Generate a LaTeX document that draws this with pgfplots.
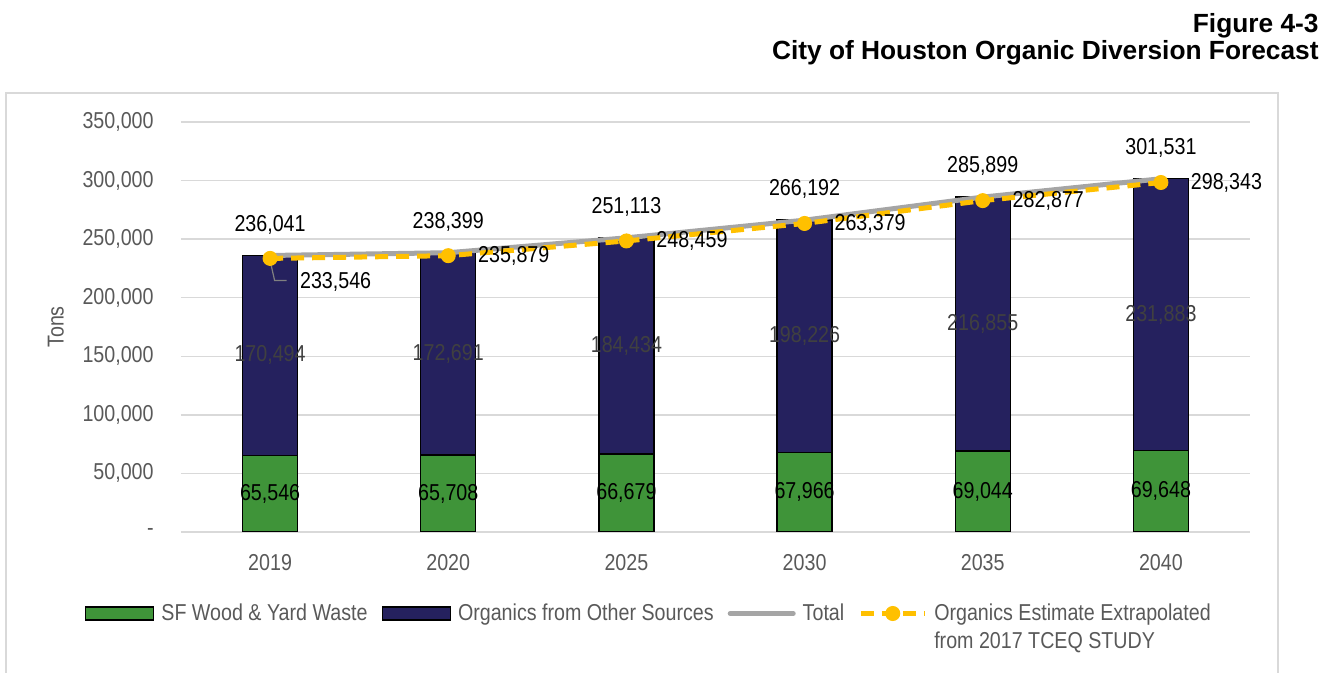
\documentclass[border=0pt]{standalone}
\usepackage{pgfplots}
\pgfplotsset{compat=1.18}
\usepackage{pgfplotstable}
\usepackage{fontspec}
\setmainfont{Liberation Sans}[FakeStretch=0.855]
\newfontfamily\titlefont{Liberation Sans}
\definecolor{cgreen}{HTML}{3F9439}
\definecolor{cnavy}{HTML}{25215E}
\definecolor{cgray}{HTML}{A5A5A5}
\definecolor{cyel}{HTML}{FFC000}
\definecolor{ctxt}{HTML}{595959}
\definecolor{cgrid}{HTML}{D9D9D9}
\definecolor{cseg}{HTML}{404040}

\pgfplotsset{
  barleg/.style={legend image code/.code={\draw[##1] (0pt,-3.25pt) rectangle (34pt,3.25pt);}},
  lineleg/.style={legend image code/.code={\draw[##1] (1.25pt,0pt) -- (32.75pt,0pt);}},
  markleg/.style={legend image code/.code={\draw[mark repeat=2,mark phase=2,##1] plot coordinates {(0pt,0pt) (16pt,0pt) (32pt,0pt)};}},
  frame/.style={at={(90.5pt,70.5pt)}, anchor=south west,
    scale only axis, width=534.5pt, height=205pt,
    xmin=-0.5, xmax=5.5, ymin=0, ymax=350000},
}

\pgfplotstableread{
x g o tot est totl estl dy
0 65546 170494 236041 233546 236,041 233,546 -11.8
1 65708 172691 238399 235879 238,399 235,879 0
2 66679 184434 251113 248459 251,113 248,459 0
3 67966 198226 266192 263379 266,192 263,379 0
4 69044 216855 285899 282877 285,899 282,877 0
5 69648 231883 301531 298343 301,531 298,343 0
}\datatable

\begin{document}
\fontsize{11.5}{13.8}\selectfont
\begin{tikzpicture}
\begin{axis}[
  frame,
  ybar stacked, bar width=27.5pt,
  axis line style={draw=none}, major tick length=0pt,
  ymajorgrids, grid style={cgrid, line width=0.75pt},
  xtick={0,1,2,3,4,5}, xticklabels={2019,2020,2025,2030,2035,2040},
  ytick={0,50000,100000,150000,200000,250000,300000,350000},
  yticklabels={{-},{50,000},{100,000},{150,000},{200,000},{250,000},{300,000},{350,000}},
  scaled y ticks=false,
  tick label style={text=ctxt, inner sep=0pt},
  yticklabel style={anchor=east, xshift=-13.5pt},
  xticklabel style={anchor=north, yshift=-11pt},
  ylabel={Tons},
  every axis y label/.style={at={(axis description cs:-0.117,0.5)}, rotate=90, anchor=center, text=ctxt},
]
\addplot[fill=cgreen, draw=black, line width=0.7pt] table[x=x, y=g] {\datatable};
\addplot[fill=cnavy, draw=black, line width=0.7pt] table[x=x, y=o] {\datatable};
\end{axis}

\begin{axis}[
  frame, hide axis, clip=false,
  legend columns=4,
  legend cell align=left,
  legend style={at={(axis description cs:-0.0898,-0.1988)}, anchor=west, draw=none, fill=none,
    inner sep=0pt, outer sep=0pt, nodes={text=ctxt, inner sep=0pt},
    /tikz/column sep=3.5pt,
    /tikz/every even column/.append style={column sep=7pt}},
]
\addlegendimage{barleg, fill=cgreen, draw=black, line width=0.7pt}
\addlegendentry{SF Wood \& Yard Waste}
\addlegendimage{barleg, fill=cnavy, draw=black, line width=0.7pt}
\addlegendentry{Organics from Other Sources}
\addplot[sharp plot, draw=cgray, line width=2.5pt, line cap=round, mark=none,
  nodes near coords, point meta=explicit symbolic,
  every node near coord/.style={anchor=center, yshift=15.5pt, text=black, inner sep=0pt},
  lineleg]
  table[x=x, y=tot, meta=totl] {\datatable};
\addlegendentry{Total}
\addplot[sharp plot, draw=cyel, line width=2.5pt, dash pattern=on 6.5pt off 4pt,
  mark=*, mark size=3.5pt, mark options={solid, fill=cyel, draw=cyel, line width=0.5pt},
  nodes near coords, point meta=explicit symbolic,
  visualization depends on={\thisrow{dy} \as \dy},
  every node near coord/.style={anchor=west, xshift=14.75pt, yshift=\dy pt, text=black, inner sep=0pt},
  markleg]
  table[x=x, y=est, meta=estl] {\datatable};
\addlegendentry{\makebox[0pt][l]{\raisebox{-14pt}[0pt][0pt]{from 2017 TCEQ STUDY}}Organics Estimate Extrapolated}

\draw[gray, line width=0.6pt] (axis cs:0,233546) ++(0pt,-1pt) -- ++(2.25pt,-10pt) -- ++(6pt,0pt);

\node[text=black] at (axis cs:0,32773) {65,546};
\node[text=black] at (axis cs:1,32854) {65,708};
\node[text=black] at (axis cs:2,33339.5) {66,679};
\node[text=black] at (axis cs:3,33983) {67,966};
\node[text=black] at (axis cs:4,34522) {69,044};
\node[text=black] at (axis cs:5,34824) {69,648};
\node[text=cseg] at (axis cs:0,150793) {170,494};
\node[text=cseg] at (axis cs:1,152053.5) {172,691};
\node[text=cseg] at (axis cs:2,158896) {184,434};
\node[text=cseg] at (axis cs:3,167079) {198,226};
\node[text=cseg] at (axis cs:4,177471.5) {216,855};
\node[text=cseg] at (axis cs:5,185589.5) {231,883};
\end{axis}
\draw[cgrid, line width=1pt] (3pt,-5pt) rectangle (639pt,290pt);
\node[anchor=base east, inner sep=0pt, font=\titlefont\bfseries\fontsize{13.15}{15}\selectfont] at (659.5pt,320pt) {Figure 4-3};
\node[anchor=base east, inner sep=0pt, font=\titlefont\bfseries\fontsize{13.15}{15}\selectfont] at (659.5pt,306.5pt) {City of Houston Organic Diversion Forecast};
\pgfresetboundingbox
\useasboundingbox (0pt,0pt) rectangle (669.5pt,336.5pt);
\end{tikzpicture}
\end{document}
